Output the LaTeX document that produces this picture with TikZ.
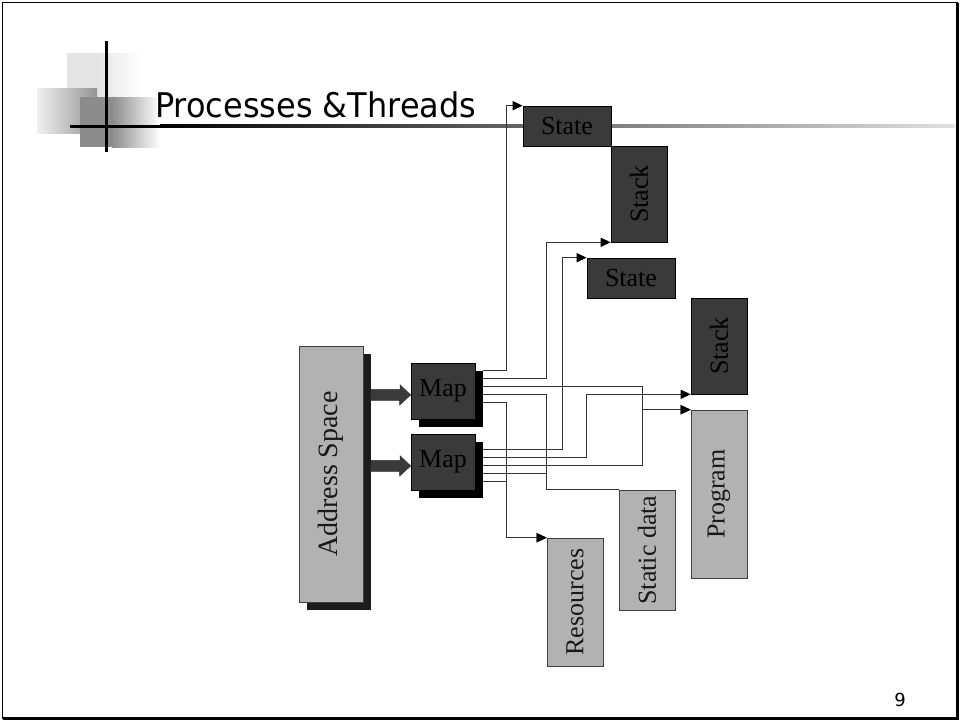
\documentclass[tikz,border=0pt]{standalone}
\usepackage{fontspec}
\setmainfont{Liberation Serif}
\newfontfamily\titlefont{DejaVu Sans}
\usetikzlibrary{arrows.meta,calc}
\definecolor{boxlight}{HTML}{B2B2B2}
\definecolor{boxdark}{HTML}{3A3A3A}
\definecolor{shadowdark}{HTML}{1C1C1C}
\newcommand\boxfont{\fontsize{26}{30}\selectfont}
\newcommand\addrfont{\fontsize{28}{32}\selectfont}
\tikzset{
  darkbox/.style={draw=black, line width=0.6pt, fill=boxdark, inner sep=0pt, font=\boxfont, text=black},
  lightbox/.style={draw=black!75, line width=0.6pt, fill=boxlight, inner sep=0pt, font=\boxfont, text=black!90},
  shadowbox/.style={fill=black, inner sep=0pt},
  wire/.style={draw=black!80, line width=1.1pt},
  tip/.style={-{Triangle[length=10pt,width=9pt,color=black]}},
  bigarrow/.style={fill=boxdark, draw=black!80, line width=0.5pt},
}
\begin{document}
\begin{tikzpicture}[x=1pt,y=-1pt]
\useasboundingbox (0,0) rectangle (961,723);
\fill[white] (0,0) rectangle (961,723);

% slide frame
\draw[line width=1.5pt] (2.5,2.5) rectangle (957,718);
\draw[line width=3pt] (957,2.5) -- (957,718) -- (2.5,718);

% title ornament
\fill[black!10] (67,53) rectangle (100,103);
\shade[left color=black!10, right color=white] (100,53) rectangle (140,103);
\shade[left color=black!6, right color=black!42] (37,88) rectangle (97,133);
\fill[black!45] (80,97) rectangle (112,147);
\shade[left color=black!45, right color=white] (112,97) rectangle (160,147);
\fill[black] (70,124.5) rectangle (160,127.5);
\shade[left color=black, right color=black!12] (160,124.5) rectangle (955,127.5);
\fill[black] (104.5,41) rectangle (107.5,152);

\node[anchor=base west, font=\titlefont\fontsize{34}{40}\selectfont, xscale=0.94, inner sep=0pt] (title) at (155,117) {Processes \&Threads};

% address space and maps
\node[fill=shadowdark, inner sep=0pt, minimum width=64pt, minimum height=256pt] (addrs) at (339,482) {};
\node[lightbox, font=\addrfont, minimum width=64pt, minimum height=256pt] (addr) at (331,474) {\rotatebox{90}{Address Space}};

\node[shadowbox, minimum width=64pt, minimum height=56pt] (map1s) at (451,399) {};
\node[darkbox, minimum width=64pt, minimum height=56pt] (map1) at (443,391) {Map};
\node[shadowbox, minimum width=64pt, minimum height=56pt] (map2s) at (451,470) {};
\node[darkbox, minimum width=64pt, minimum height=56pt] (map2) at (443,462) {Map};

% per-thread and shared parts
\node[darkbox, minimum width=88pt, minimum height=40pt] (state1) at (567,126) {State};
\node[darkbox, minimum width=56pt, minimum height=96pt] (stack1) at (639,194) {\rotatebox{90}{Stack}};
\node[darkbox, minimum width=88pt, minimum height=40pt] (state2) at (631,278) {State};
\node[darkbox, minimum width=56pt, minimum height=96pt] (stack2) at (719,346) {\rotatebox{90}{Stack}};
\node[lightbox, minimum width=56pt, minimum height=168pt] (program) at (719,494) {\rotatebox{90}{Program}};
\node[lightbox, minimum width=56pt, minimum height=120pt] (static) at (647,550) {\rotatebox{90}{Static data}};
\node[lightbox, minimum width=56pt, minimum height=128pt] (res) at (575,602) {\rotatebox{90}{Resources}};

% thick arrows into the maps
\coordinate (m1) at ($(map1.north)!0.5!(map1s.south)$);
\coordinate (m2) at ($(map2.north)!0.5!(map2s.south)$);
\draw[bigarrow] (addrs.east |- m1) ++(0,-5.5) -- ++(29,0) -- ++(0,-4.5) -- (map1.west |- m1)
  -- ++(-11,10) -- ++(0,-4.5) -- ++(-29,0) -- cycle;
\draw[bigarrow] (addrs.east |- m2) ++(0,-5.5) -- ++(29,0) -- ++(0,-4.5) -- (map2.west |- m2)
  -- ++(-11,10) -- ++(0,-4.5) -- ++(-29,0) -- cycle;

% wires from the first map
\draw[wire,tip] (map1s.north east) -| ([xshift=-16pt]state1.north west) -- (state1.north west);
\draw[wire,tip] ([yshift=-8pt]map1s.north east) -| ([xshift=-64pt]stack1.south west) -- (stack1.south west);
\draw[wire,tip] ([yshift=-16pt]map1s.north east) -| ([xshift=-48pt]program.north west) -- (program.north west);
\draw[wire] ([yshift=-24pt]map1s.north east) -| ([xshift=-72pt]static.north west) -- (static.north west);
\draw[wire,tip] ([yshift=-32pt]map1s.north east) -| ([xshift=-40pt]res.north west) -- (res.north west);

% wires from the second map
\draw[wire,tip] ([yshift=-8pt]map2s.north east) -| ([xshift=-24pt]state2.north west) -- (state2.north west);
\draw[wire,tip] ([yshift=-16pt]map2s.north east) -| ([xshift=-104pt]stack2.south west) -- (stack2.south west);
\draw[wire,tip] ([yshift=-24pt]map2s.north east) -| ([xshift=-48pt]program.north west) -- (program.north west);
\draw[wire] ([yshift=-32pt]map2s.north east) -| ([xshift=-72pt]static.north west) -- (static.north west);
\draw[wire,tip] ([yshift=-40pt]map2s.north east) -| ([xshift=-40pt]res.north west) -- (res.north west);

% page number
\node[font=\titlefont\fontsize{18}{22}\selectfont] (pagenum) at (900,700) {9};
\end{tikzpicture}
\end{document}
